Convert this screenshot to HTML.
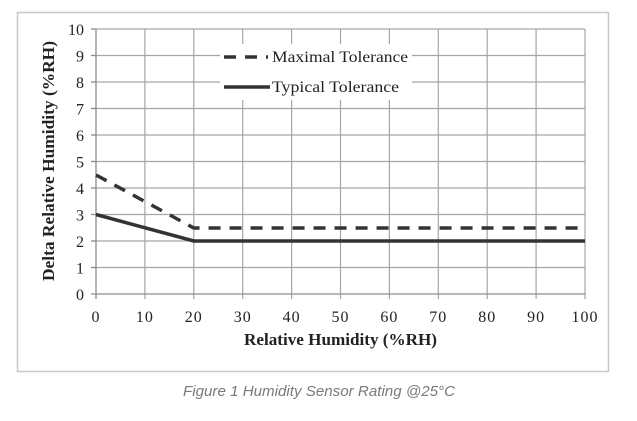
<!DOCTYPE html>
<html><head><style>
body{margin:0;background:#fff;width:637px;height:416px;overflow:hidden}
svg text{font-family:"Liberation Serif",serif;fill:#222}
</style></head><body>
<svg width="637" height="416" xmlns="http://www.w3.org/2000/svg">
<rect x="17.5" y="12.5" width="591" height="359" fill="#fff" stroke="#c8c8c8" stroke-width="1.5"/>
<g stroke="#a6a6a6" stroke-width="1.2">
<line x1="96" y1="29" x2="585" y2="29"/><line x1="96" y1="55.5" x2="585" y2="55.5"/><line x1="96" y1="82" x2="585" y2="82"/><line x1="96" y1="108.5" x2="585" y2="108.5"/><line x1="96" y1="135" x2="585" y2="135"/><line x1="96" y1="161.5" x2="585" y2="161.5"/><line x1="96" y1="188" x2="585" y2="188"/><line x1="96" y1="214.5" x2="585" y2="214.5"/><line x1="96" y1="241" x2="585" y2="241"/><line x1="96" y1="267.5" x2="585" y2="267.5"/>
<line x1="144.9" y1="29" x2="144.9" y2="299"/><line x1="193.8" y1="29" x2="193.8" y2="299"/><line x1="242.7" y1="29" x2="242.7" y2="299"/><line x1="291.6" y1="29" x2="291.6" y2="299"/><line x1="340.5" y1="29" x2="340.5" y2="299"/><line x1="389.4" y1="29" x2="389.4" y2="299"/><line x1="438.3" y1="29" x2="438.3" y2="299"/><line x1="487.2" y1="29" x2="487.2" y2="299"/><line x1="536.1" y1="29" x2="536.1" y2="299"/><line x1="585" y1="29" x2="585" y2="299"/>
</g>
<g stroke="#8c8c8c" stroke-width="1.3">
<line x1="96" y1="29" x2="96" y2="299"/><line x1="91" y1="294" x2="585" y2="294"/>
<line x1="91" y1="29" x2="96" y2="29"/><line x1="91" y1="55.5" x2="96" y2="55.5"/><line x1="91" y1="82" x2="96" y2="82"/><line x1="91" y1="108.5" x2="96" y2="108.5"/><line x1="91" y1="135" x2="96" y2="135"/><line x1="91" y1="161.5" x2="96" y2="161.5"/><line x1="91" y1="188" x2="96" y2="188"/><line x1="91" y1="214.5" x2="96" y2="214.5"/><line x1="91" y1="241" x2="96" y2="241"/><line x1="91" y1="267.5" x2="96" y2="267.5"/>
</g>
<g font-size="16" text-anchor="end">
<text x="84" y="35">10</text><text x="84" y="61.5">9</text><text x="84" y="88">8</text><text x="84" y="114.5">7</text><text x="84" y="141">6</text><text x="84" y="167.5">5</text><text x="84" y="194">4</text><text x="84" y="220.5">3</text><text x="84" y="247">2</text><text x="84" y="273.5">1</text><text x="84" y="300">0</text>
</g>
<g font-size="16" text-anchor="middle" letter-spacing="1">
<text x="96" y="322">0</text><text x="144.9" y="322">10</text><text x="193.8" y="322">20</text><text x="242.7" y="322">30</text><text x="291.6" y="322">40</text><text x="340.5" y="322">50</text><text x="389.4" y="322">60</text><text x="438.3" y="322">70</text><text x="487.2" y="322">80</text><text x="536.1" y="322">90</text><text x="585" y="322">100</text>
</g>
<text x="244" y="345" font-size="17" font-weight="bold" textLength="193" lengthAdjust="spacingAndGlyphs">Relative Humidity (%RH)</text>
<text transform="translate(54,281) rotate(-90)" font-size="17" font-weight="bold" textLength="240" lengthAdjust="spacingAndGlyphs">Delta Relative Humidity (%RH)</text>
<polyline points="96,175 193.8,228 585,228" fill="none" stroke="#333" stroke-width="3.5" stroke-dasharray="12,9"/>
<polyline points="96,214.5 193.8,241 585,241" fill="none" stroke="#333" stroke-width="3.5"/>
<rect x="220" y="44" width="192" height="56" fill="#fff"/>
<line x1="224" y1="57" x2="268" y2="57" stroke="#333" stroke-width="3.5" stroke-dasharray="12,9"/>
<line x1="224" y1="87" x2="270" y2="87" stroke="#333" stroke-width="3.5"/>
<text x="272" y="62" font-size="16" textLength="136" lengthAdjust="spacingAndGlyphs">Maximal Tolerance</text>
<text x="272" y="92" font-size="16" textLength="127" lengthAdjust="spacingAndGlyphs">Typical Tolerance</text>
<text x="183" y="396" font-size="15" font-style="italic" style="font-family:'Liberation Sans',sans-serif;fill:#7a7a7a" textLength="272" lengthAdjust="spacingAndGlyphs">Figure 1 Humidity Sensor Rating @25°C</text>
</svg>
</body></html>
